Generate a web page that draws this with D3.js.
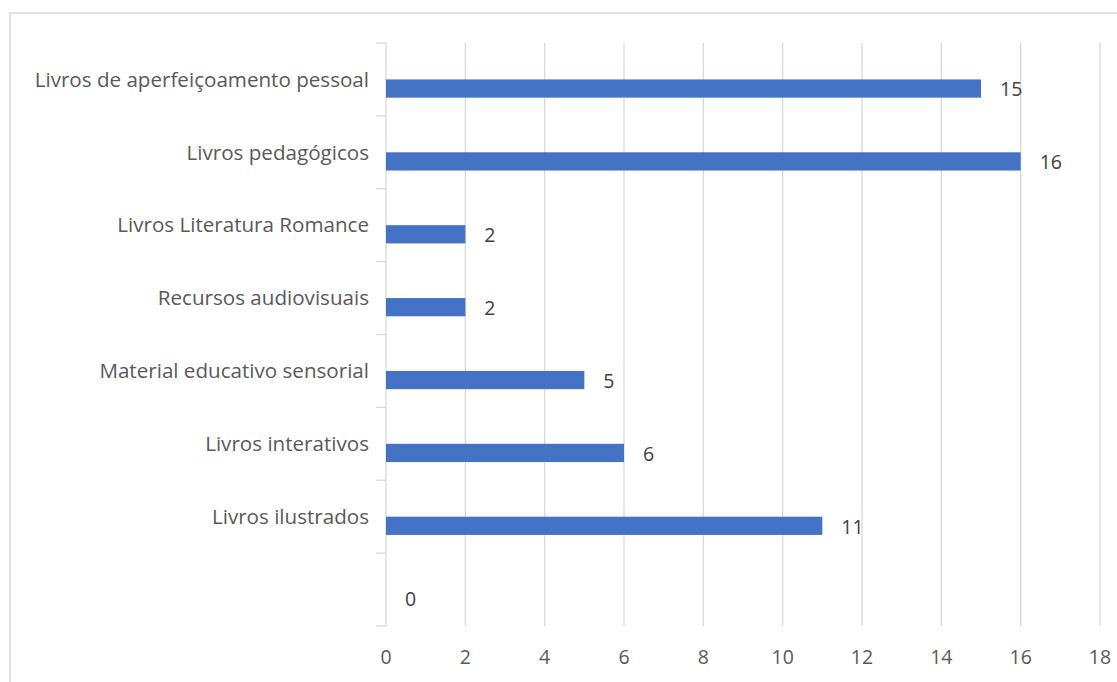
<!DOCTYPE html>
<html><head><meta charset="utf-8">
<script src="https://cdn.jsdelivr.net/npm/d3@7"></script>
<style>body{margin:0;background:#fff}svg{display:block}</style>
</head><body>
<svg id="c" width="1117" height="682"></svg>
<script>
const categories = ["Livros de aperfeiçoamento pessoal","Livros pedagógicos","Livros Literatura Romance","Recursos audiovisuais","Material educativo sensorial","Livros interativos","Livros ilustrados",""];
const values = [15,16,2,2,5,6,11,0];
const xTicks = [0,2,4,6,8,10,12,14,16,18];

(function(){
const svg = d3.select("#c");
const font = "'Open Sans', sans-serif";
const grey = "#595959";
const pL = 386, pR = 1100, pT = 43, pB = 626;

// chart border
svg.append("rect").attr("x",10).attr("y",13).attr("width",1200).attr("height",800)
  .attr("fill","none").attr("stroke","#d9d9d9").attr("stroke-width",1.5);

const x = d3.scaleLinear().domain([0,18]).range([pL,pR]);
const y = d3.scaleBand().domain(d3.range(categories.length)).range([pT,pB]);

// gridlines
svg.append("g").selectAll("line").data(xTicks.slice(1)).join("line")
  .attr("x1",d=>x(d)).attr("x2",d=>x(d)).attr("y1",pT).attr("y2",pB)
  .attr("stroke","#d9d9d9").attr("stroke-width",1.3);

// x axis labels
svg.append("g").selectAll("text").data(xTicks).join("text")
  .attr("x",d=>x(d)).attr("y",657).attr("dy","0.35em").attr("text-anchor","middle")
  .attr("font-family",font).attr("font-size",19.5).attr("fill",grey).text(d=>d);

// y axis line and ticks
svg.append("line").attr("x1",pL).attr("x2",pL).attr("y1",pT).attr("y2",pB)
  .attr("stroke","#d9d9d9").attr("stroke-width",1.3);
const bounds = d3.range(categories.length+1).map(i => i<categories.length ? y(i) : pB);
svg.append("g").selectAll("line").data(bounds).join("line")
  .attr("x1",pL-10).attr("x2",pL).attr("y1",d=>d).attr("y2",d=>d)
  .attr("stroke","#d9d9d9").attr("stroke-width",1.3);

// category labels
svg.append("g").selectAll("text").data(categories).join("text")
  .attr("x",pL-17).attr("y",(d,i)=>y(i)+y.bandwidth()*0.5).attr("dy","0.35em")
  .attr("text-anchor","end").attr("font-family",font).attr("font-size",20.6).attr("fill",grey).text(d=>d);

// bars
const bh = y.bandwidth()*0.25;
svg.append("g").selectAll("rect").data(values).join("rect")
  .attr("x",x(0)).attr("y",(d,i)=>y(i)+y.bandwidth()/2)
  .attr("width",d=>x(d)-x(0)).attr("height",bh).attr("fill","#4472c4");

// value labels
svg.append("g").selectAll("text").data(values).join("text")
  .attr("x",d=>x(d)+19).attr("y",(d,i)=>y(i)+y.bandwidth()/2+bh/2+1).attr("dy","0.35em")
  .attr("font-family",font).attr("font-size",19.5).attr("fill","#404040").text(d=>d);
})();
</script>
</body></html>
